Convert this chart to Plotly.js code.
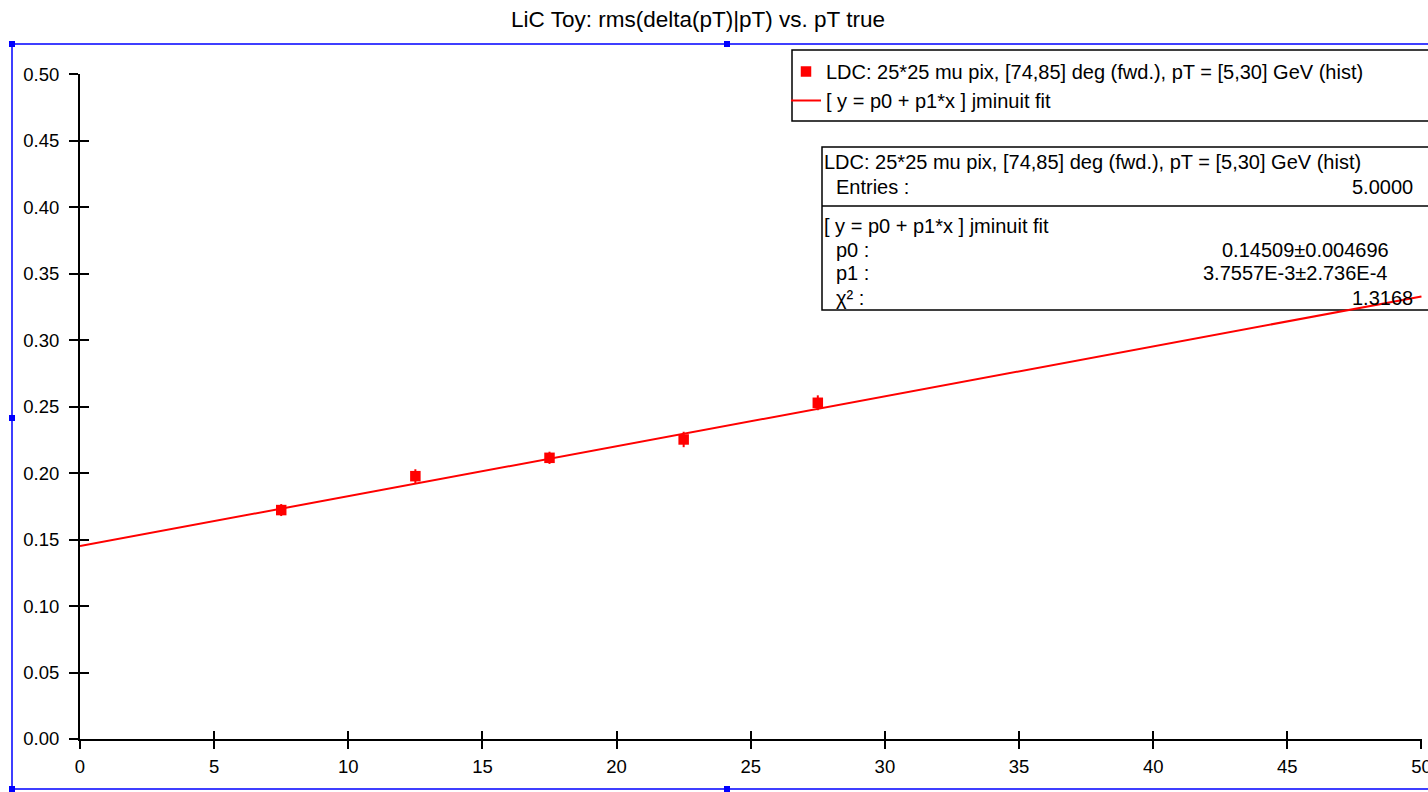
<!DOCTYPE html>
<html>
<head>
<meta charset="utf-8">
<script src="https://cdn.plot.ly/plotly-3.0.1.min.js"></script>
<style>html,body{margin:0;padding:0;background:#fff;}#chart{width:1428px;height:792px;}</style>
</head>
<body>
<div id="chart"></div>
<script>
// ---- data ----
const ptTrue = [7.5, 12.5, 17.5, 22.5, 27.5];
const rmsRel = [0.1722, 0.1977, 0.2115, 0.2253, 0.2529];
const rmsErr = [0.0045, 0.0052, 0.0046, 0.0058, 0.0056];
const fitP0 = 0.14509;
const fitP1 = 3.7557e-3;
const fitX = [0, 50];
const fitY = fitX.map(x => fitP0 + fitP1 * x);
const histName = 'LDC: 25*25 mu pix, [74,85] deg (fwd.), pT = [5,30] GeV (hist)';
const fitName = '[ y = p0 + p1*x ] jminuit fit';
const titleText = 'LiC Toy: rms(delta(pT)|pT) vs. pT true';
const statsLabels = ['Entries :', 'p0 :', 'p1 :', '\u03c7\u00b2 :'];
const statsValues = ['5.0000', '0.14509\u00b10.004696', '3.7557E-3\u00b12.736E-4', '1.3168'];

// ---- geometry helpers (pixel -> paper) ----
const W = 1428, H = 792;
const M = {l: 80, r: 6, t: 74, b: 53};
const PW = W - M.l - M.r, PH = H - M.t - M.b;
const px = x => (x - M.l) / PW;
const py = y => (H - M.b - y) / PH;

const FONT = '"Liberation Sans", Arial, Helvetica, sans-serif';
const RED = '#ff0000';
const BLUE = '#0000ff';

const traces = [
  {
    x: ptTrue, y: rmsRel, type: 'scatter', mode: 'markers', name: histName,
    marker: {symbol: 'square', size: 10.5, color: RED},
    error_y: {type: 'data', array: rmsErr, visible: true, color: RED, thickness: 2, width: 0},
    hoverinfo: 'x+y'
  },
  {
    x: fitX, y: fitY, type: 'scatter', mode: 'lines', name: fitName,
    line: {color: RED, width: 2}, hoverinfo: 'skip'
  },
  {
    x: ptTrue, y: rmsRel, xaxis: 'x2', yaxis: 'y2', type: 'scatter', mode: 'markers',
    marker: {opacity: 0}, showlegend: false, hoverinfo: 'skip'
  }
];

const shapes = [];
// legend box
shapes.push({type: 'rect', xref: 'paper', yref: 'paper', x0: px(792), x1: px(1440), y0: py(121), y1: py(50),
  line: {color: '#000', width: 1.5}, fillcolor: 'rgba(0,0,0,0)', layer: 'above'});
// stats box
shapes.push({type: 'rect', xref: 'paper', yref: 'paper', x0: px(822), x1: px(1440), y0: py(310), y1: py(147),
  line: {color: '#000', width: 1.5}, fillcolor: 'rgba(0,0,0,0)', layer: 'below'});
shapes.push({type: 'line', xref: 'paper', yref: 'paper', x0: px(822), x1: px(1440), y0: py(206), y1: py(206),
  line: {color: '#000', width: 1.5}});
// blue selection frame
shapes.push({type: 'rect', xref: 'paper', yref: 'paper', x0: px(12), x1: px(1440), y0: py(789), y1: py(44),
  line: {color: BLUE, width: 1.5}, fillcolor: 'rgba(0,0,0,0)', layer: 'below'});
const handles = [[12, 44], [727, 44], [12, 418], [12, 789], [727, 789]];
handles.forEach(([hx, hy]) => {
  shapes.push({type: 'rect', xref: 'paper', yref: 'paper', x0: px(hx - 3), x1: px(hx + 3), y0: py(hy + 3), y1: py(hy - 3),
    line: {width: 0}, fillcolor: BLUE, layer: 'above'});
});

const SF = {family: FONT, size: 20, color: '#000'};
const annotations = [];
function ann(text, x, y, anchor) {
  annotations.push({text: text, xref: 'paper', yref: 'paper', x: px(x), y: py(y), xanchor: anchor, yanchor: 'middle',
    showarrow: false, font: SF});
}
ann(histName, 822, 162, 'left');
ann(statsLabels[0], 834, 187, 'left');
ann(statsValues[0], 1415, 187, 'right');
ann(fitName, 822, 226, 'left');
ann(statsLabels[1], 834, 250, 'left');
ann(statsValues[1], 1391, 250, 'right');
ann(statsLabels[2], 834, 273, 'left');
ann(statsValues[2], 1389, 273, 'right');
ann(statsLabels[3], 834, 298, 'left');
ann(statsValues[3], 1415, 298, 'right');

const axisCommon = {showgrid: false, zeroline: false, showline: true, linecolor: '#000', linewidth: 2,
  tickcolor: '#000', tickwidth: 2, tickfont: {family: FONT, size: 18.5, color: '#000'}, ticklabeloverflow: 'allow'};

const layout = {
  width: W, height: H,
  margin: M,
  paper_bgcolor: '#fff', plot_bgcolor: '#fff',
  font: {family: FONT, color: '#000'},
  title: {text: titleText, font: {family: FONT, size: 22.5, color: '#000'},
    xref: 'container', yref: 'container', x: 698 / W, xanchor: 'center', y: 1 - 19 / H, yanchor: 'middle'},
  xaxis: Object.assign({}, axisCommon, {range: [0, 50.02], dtick: 5, tick0: 0, ticks: 'outside', ticklen: 8,
    ticklabelstandoff: 2}),
  yaxis: Object.assign({}, axisCommon, {range: [0, 0.5002], dtick: 0.05, tick0: 0, tickformat: '.2f', ticks: 'outside', ticklen: 9,
    ticklabelstandoff: 6}),
  xaxis2: {overlaying: 'x', matches: 'x', anchor: 'y2', showgrid: false, zeroline: false, showline: false,
    ticks: 'inside', ticklen: 8, tickwidth: 2, tickcolor: '#000', showticklabels: false, dtick: 5, tick0: 0},
  yaxis2: {overlaying: 'y', matches: 'y', anchor: 'x2', showgrid: false, zeroline: false, showline: false,
    ticks: 'inside', ticklen: 9, tickwidth: 2, tickcolor: '#000', showticklabels: false, dtick: 0.05, tick0: 0},
  showlegend: true,
  legend: {x: px(786), y: py(52), xanchor: 'left', yanchor: 'top', bgcolor: 'rgba(0,0,0,0)', borderwidth: 0,
    font: {family: FONT, size: 20, color: '#000'}, tracegroupgap: 0},
  shapes: shapes,
  annotations: annotations
};

Plotly.newPlot('chart', traces, layout, {displayModeBar: false, staticPlot: true});
</script>
</body>
</html>
